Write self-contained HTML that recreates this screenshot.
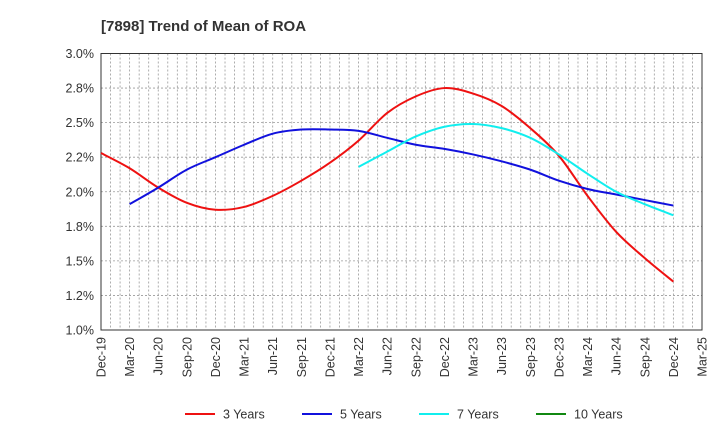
<!DOCTYPE html>
<html><head><meta charset="utf-8"><style>
body{margin:0;background:#fff;font-family:"Liberation Sans",sans-serif}
</style></head><body>
<svg id="c" width="720" height="440" xmlns="http://www.w3.org/2000/svg">
<text x="101" y="31" font-size="15" font-weight="bold" fill="#333">[7898]  Trend of Mean of ROA</text>
<g id="grid"></g><g id="axes"></g><g id="series"></g><g id="legend"></g>
</svg>
<script>
const xLabels=["Dec-19","Mar-20","Jun-20","Sep-20","Dec-20","Mar-21","Jun-21","Sep-21","Dec-21","Mar-22","Jun-22","Sep-22","Dec-22","Mar-23","Jun-23","Sep-23","Dec-23","Mar-24","Jun-24","Sep-24","Dec-24","Mar-25"];
const yTicks=[1.0,1.25,1.5,1.75,2.0,2.25,2.5,2.75,3.0];
const yTickLabels=["1.0%","1.2%","1.5%","1.8%","2.0%","2.2%","2.5%","2.8%","3.0%"];
const s3=[2.28,2.17,2.03,1.92,1.87,1.89,1.97,2.08,2.21,2.37,2.57,2.69,2.75,2.71,2.62,2.46,2.26,1.97,1.71,1.52,1.35];
const s5=[null,1.91,2.03,2.16,2.25,2.34,2.42,2.45,2.45,2.44,2.39,2.34,2.31,2.27,2.22,2.16,2.08,2.02,1.98,1.94,1.90];
const s7=[null,null,null,null,null,null,null,null,null,2.18,2.29,2.40,2.47,2.49,2.46,2.39,2.27,2.13,2.00,1.91,1.83];
const s10=[];
const L=101,R=702,T=53.5,B=330;
const NS="http://www.w3.org/2000/svg";
const X=i=>L+(R-L)*i/(xLabels.length-1);
const Y=v=>B-(B-T)*(v-1)/2;
function mk(tag,attrs,parent){const e=document.createElementNS(NS,tag);for(const k in attrs)e.setAttribute(k,attrs[k]);parent.appendChild(e);return e;}
const grid=document.getElementById('grid'),axes=document.getElementById('axes'),ser=document.getElementById('series'),leg=document.getElementById('legend');
for(let m=1;m<63;m++){const x=L+(R-L)*m/63;const g=mk('line',{x1:x,x2:x,y1:T,y2:B,stroke:'#999','stroke-dasharray':'2,2','stroke-width':0.8},grid);

}
yTicks.forEach((v,i)=>{const y=Y(v);
if(i>0&&i<yTicks.length-1){const g=mk('line',{x1:L,x2:R,y1:y,y2:y,stroke:'#999','stroke-dasharray':'2,2','stroke-width':0.8},grid);

}
const t=mk('text',{x:L-7,y:y+4.5,'text-anchor':'end','font-size':12.5,fill:'#333'},axes);t.textContent=yTickLabels[i];

});
const fr=mk('rect',{x:L,y:T,width:R-L,height:B-T,fill:'none',stroke:'#333','stroke-width':1},axes);


xLabels.forEach((s,i)=>{const x=X(i);const t=mk('text',{transform:`translate(${x+4.5},${B+7}) rotate(-90)`,'text-anchor':'end','font-size':12.5,fill:'#333'},axes);t.textContent=s;

});
function path(arr){const p=[];arr.forEach((v,i)=>{if(v!=null)p.push([X(i),Y(v)]);});if(p.length<2)return'';
let d=`M${p[0][0]},${p[0][1]}`;for(let i=0;i<p.length-1;i++){const p0=p[i-1]||p[i],p1=p[i],p2=p[i+1],p3=p[i+2]||p2;
d+=` C${p1[0]+(p2[0]-p0[0])/6},${p1[1]+(p2[1]-p0[1])/6} ${p2[0]-(p3[0]-p1[0])/6},${p2[1]-(p3[1]-p1[1])/6} ${p2[0]},${p2[1]}`;}return d;}
const series=[[s3,'#ee1111','3 Years','line-3-years'],[s5,'#1111dd','5 Years','line-5-years'],[s7,'#11eeee','7 Years','line-7-years'],[s10,'#118811','10 Years','line-10-years']];
series.forEach(([a,c,n,id])=>{const d=path(a);if(d){const e=mk('path',{d:d,fill:'none',stroke:c,'stroke-width':2},ser);

}});
const lx=[185,302,419,536];
series.forEach(([a,c,n],i)=>{const g=mk('g',{},leg);


mk('line',{x1:lx[i],x2:lx[i]+30,y1:414,y2:414,stroke:c,'stroke-width':2},g);
const t=mk('text',{x:lx[i]+38,y:418.5,'font-size':12.5,fill:'#333'},g);t.textContent=n;});
</script>
</body></html>
